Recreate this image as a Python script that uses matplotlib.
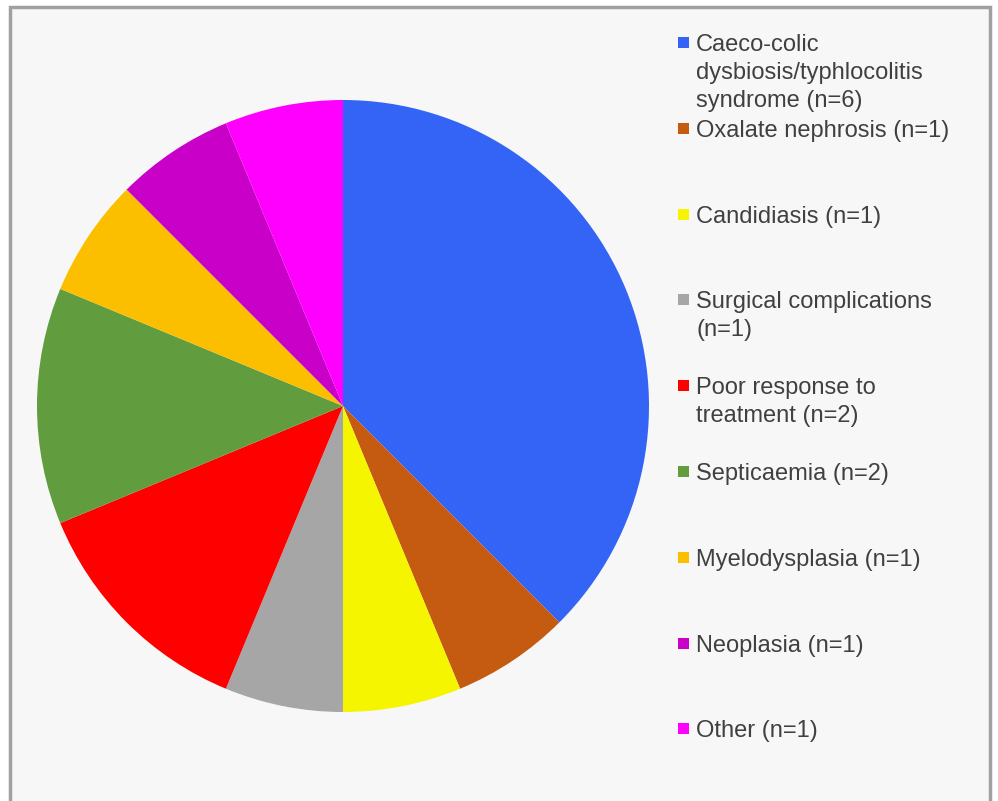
import matplotlib
matplotlib.use('Agg')
import matplotlib.pyplot as plt
from matplotlib.patches import Rectangle

labels = [
    'Caeco-colic\ndysbiosis/typhlocolitis\nsyndrome (n=6)',
    'Oxalate nephrosis (n=1)',
    'Candidiasis (n=1)',
    'Surgical complications\n(n=1)',
    'Poor response to\ntreatment (n=2)',
    'Septicaemia (n=2)',
    'Myelodysplasia (n=1)',
    'Neoplasia (n=1)',
    'Other (n=1)',
]
counts = [6, 1, 1, 1, 2, 2, 1, 1, 1]
colors = ['#3364f5', '#c55a11', '#f5f500', '#a6a6a6', '#ff0000',
          '#619c3f', '#fbbf00', '#c800c8', '#ff00ff']

W, H = 998, 801
fig = plt.figure(figsize=(W / 100, H / 100), dpi=100)
fig.patch.set_facecolor('white')

# panel background with gray frame (open at the bottom)
fig.add_artist(Rectangle((10 / W, -0.01), 980 / W, 1 - 7 / H + 0.01,
                         transform=fig.transFigure, facecolor='#f7f7f7',
                         edgecolor='#a0a0a0', lw=2.5, zorder=0))

cx, cy, r = 343, 406, 306
ax = fig.add_axes([(cx - r) / W, (H - cy - r) / H, 2 * r / W, 2 * r / H])
ax.pie(counts, colors=colors, startangle=90, counterclock=False,
       wedgeprops=dict(linewidth=0))
ax.set_xlim(-1, 1)
ax.set_ylim(-1, 1)
ax.set_aspect('equal')
ax.axis('off')

# legend drawn by hand to match the spacing of the original
base0, step, lh = 51, 85.8, 28
for i, (lab, c) in enumerate(zip(labels, colors)):
    yb = base0 + i * step
    fig.add_artist(Rectangle((678 / W, 1 - (yb - 3) / H), 11 / W, 11 / H,
                             transform=fig.transFigure, facecolor=c,
                             edgecolor='none'))
    for k, line in enumerate(lab.split('\n')):
        fig.text(696 / W, 1 - (yb + k * lh) / H, line, ha='left',
                 va='baseline', fontsize=17, family='Liberation Sans',
                 color='#404040')

fig.savefig('out.png', dpi=100)
